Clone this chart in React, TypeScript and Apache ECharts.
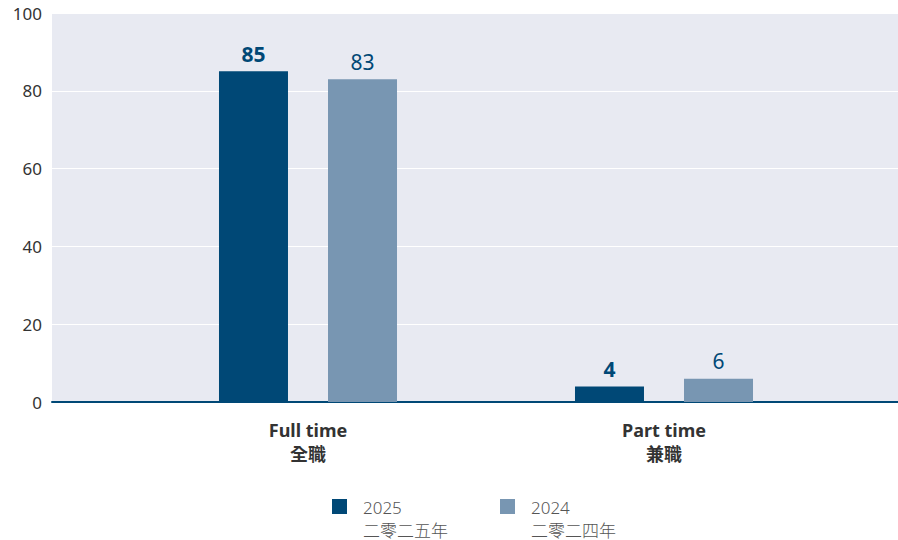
import React, { useEffect, useRef } from "react";
import * as echarts from "echarts";

const categories = ["Full time\n全職", "Part time\n兼職"];
const seriesNames = ["2025", "2024"];
const seriesSubNames = ["二零二五年", "二零二四年"];
const values2025 = [85, 4];
const values2024 = [83, 6];
const colors = ["#004876", "#7896b2"];
const yTicks = { min: 0, max: 100, interval: 20 };

const FONT = "'Noto Sans', 'Noto Sans CJK TC', sans-serif";

export default function App() {
  const ref = useRef<HTMLDivElement>(null);
  useEffect(() => {
    document.body.style.margin = "0";
    const chart = echarts.init(ref.current!, null, { renderer: "svg" });
    const legendX = [332, 500];
    const legendGraphics: any[] = [];
    seriesNames.forEach((n, i) => {
      legendGraphics.push({
        type: "rect",
        x: legendX[i],
        y: 499,
        shape: { width: 15, height: 15 },
        style: { fill: colors[i] },
      });
      legendGraphics.push({
        type: "text",
        x: legendX[i] + 31,
        y: 507,
        style: {
          text: n,
          font: `300 17px ${FONT}`,
          verticalAlign: "middle",
          fill: "#555555",
        },
      });
      legendGraphics.push({
        type: "text",
        x: legendX[i] + 31,
        y: 530,
        style: {
          text: seriesSubNames[i],
          font: `300 17px ${FONT}`,
          verticalAlign: "middle",
          fill: "#555555",
        },
      });
    });
    chart.setOption({
      animation: false,
      textStyle: { fontFamily: FONT },
      grid: [
        { left: 130, right: 56, top: 13, bottom: 138 },
        {
          left: 52,
          right: 0,
          top: 13,
          bottom: 138,
          show: true,
          backgroundColor: "#e8eaf2",
          borderWidth: 0,
        },
      ],
      xAxis: [
        {
          type: "category",
          gridIndex: 0,
          data: categories,
          axisLine: { show: false },
          axisTick: { show: false },
          axisLabel: {
            margin: 16,
            fontSize: 18,
            fontWeight: "bold",
            color: "#333333",
            lineHeight: 24,
            fontFamily: FONT,
          },
        },
        {
          type: "value",
          gridIndex: 1,
          min: 0,
          max: 1,
          axisLine: { show: true, onZero: false, lineStyle: { color: "#004876", width: 2 } },
          axisTick: { show: false },
          axisLabel: { show: false },
          splitLine: { show: false },
        },
      ],
      yAxis: [
        {
          type: "value",
          gridIndex: 0,
          ...yTicks,
          show: false,
          splitLine: { show: false },
        },
        {
          type: "value",
          gridIndex: 1,
          ...yTicks,
          axisLine: { show: false },
          axisTick: { show: false },
          axisLabel: { fontSize: 17, color: "#333333", margin: 10, fontFamily: FONT },
          splitLine: { show: true, lineStyle: { color: "#ffffff", width: 1 } },
        },
      ],
      series: [
        {
          name: seriesNames[0],
          type: "bar",
          xAxisIndex: 0,
          yAxisIndex: 0,
          data: values2025,
          barWidth: 69,
          barGap: "58%",
          itemStyle: { color: colors[0] },
          label: {
            show: true,
            position: "top",
            distance: 7,
            fontSize: 21,
            fontWeight: "bold",
            color: "#004876",
            fontFamily: FONT,
          },
        },
        {
          name: seriesNames[1],
          type: "bar",
          xAxisIndex: 0,
          yAxisIndex: 0,
          data: values2024,
          barWidth: 69,
          barGap: "58%",
          itemStyle: { color: colors[1] },
          label: {
            show: true,
            position: "top",
            distance: 7,
            fontSize: 21,
            fontWeight: "normal",
            color: "#004876",
            fontFamily: FONT,
          },
        },
      ],
      graphic: legendGraphics,
    });
    return () => chart.dispose();
  }, []);
  return <div ref={ref} style={{ width: 898, height: 540 }} />;
}
